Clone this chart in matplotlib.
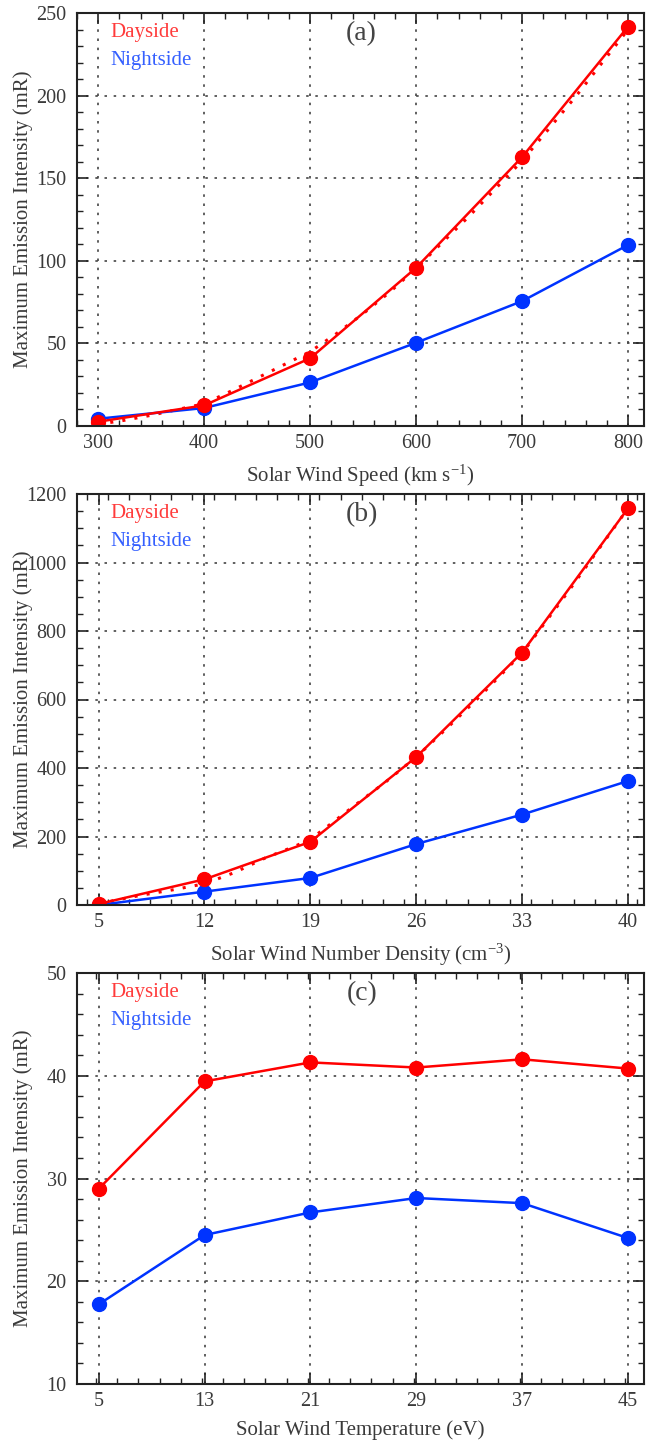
import matplotlib
matplotlib.use("Agg")
import matplotlib.pyplot as plt
import numpy as np
from matplotlib.ticker import MultipleLocator
import matplotlib.transforms as mtransforms

plt.rcParams['font.family'] = ['Liberation Serif', 'DejaVu Serif']
plt.rcParams['mathtext.fontset'] = 'stix'

# ---------------- data ----------------
speed = [300, 400, 500, 600, 700, 800]
speed_day = [2.6, 12.5, 41.0, 95.8, 162.8, 241.8]
speed_night = [4.4, 10.9, 26.4, 50.4, 75.6, 109.6]
speed_fit_x = [300, 325, 350, 375, 400, 425, 450, 475, 500, 525, 550, 575, 600, 650, 700, 750, 800]
speed_fit_y = [1.0, 3.5, 6.5, 10.0, 13.5, 21.0, 29.0, 37.0, 45.0, 56.0, 68.0, 81.0, 95.5, 127.0, 160.5, 199.0, 240.0]

dens = [5, 12, 19, 26, 33, 40]
dens_day = [3.0, 75.0, 184.5, 432.0, 737.0, 1158.0]
dens_night = [0.0, 39.0, 79.0, 178.0, 264.0, 362.0]
dens_fit_x = [5, 6, 8, 10, 12, 14, 16, 18, 19, 20, 22, 24, 26, 28, 30, 33, 36, 40]
dens_fit_y = [3.0, 13.0, 30.0, 45.0, 62.0, 95.0, 137.0, 172.0, 192.0, 225.0, 293.0, 360.0, 432.0, 515.0, 600.0, 735.0, 912.0, 1158.0]

temp = [5, 13, 21, 29, 37, 45]
temp_day = [29.0, 39.45, 41.3, 40.8, 41.6, 40.7]
temp_night = [17.75, 24.5, 26.7, 28.1, 27.6, 24.2]

panel_labels = ['(a)', '(b)', '(c)']
xlabels = [r'Solar Wind Speed (km s$^{\mathregular{-1}}$)',
           r'Solar Wind Number Density (cm$^{\mathregular{-3}}$)',
           'Solar Wind Temperature (eV)']
ylabel = 'Maximum Emission Intensity (mR)'

RED = '#ff0000'
BLUE = '#0033ff'
TXT = '#3a3a3a'

W, H = 646, 1443
fig = plt.figure(figsize=(W / 100, H / 100), dpi=100)

def px_axes(left, right, top, bottom):
    return fig.add_axes([left / W, 1 - bottom / H, (right - left) / W, (bottom - top) / H])

ax_a = px_axes(77, 644, 13, 426)
ax_b = px_axes(77, 644, 494, 905)
ax_c = px_axes(77, 644, 973, 1384)

def style(ax, xlim, ylim, xmaj, xmin, ymaj, ymin, xticks):
    ax.set_xlim(*xlim)
    ax.set_ylim(*ylim)
    ax.set_xticks(xticks)
    ax.xaxis.set_minor_locator(MultipleLocator(xmin))
    ax.yaxis.set_major_locator(MultipleLocator(ymaj))
    ax.yaxis.set_minor_locator(MultipleLocator(ymin))
    ax.tick_params(which='both', direction='in', top=True, right=True, colors='#222222',
                   labelcolor=TXT, labelsize=14.5)
    ax.tick_params(which='major', length=8, width=1.2)
    ax.tick_params(which='minor', length=4, width=1.0)
    ax.tick_params(axis='x', pad=5.5)
    ax.tick_params(axis='y', pad=7.5)
    for s in ax.spines.values():
        s.set_linewidth(1.5)
        s.set_color('#222222')
    ax.grid(True, which='major', color='#444444', linestyle=(0, (1.5, 4)), linewidth=1.2)
    ax.set_axisbelow(True)
    ax.set_ylabel(ylabel, fontsize=15, color=TXT)

def annotate(ax, lab):
    ax.text(0.058, 0.952, 'Dayside', color='#ff3b3b', fontsize=15, transform=ax.transAxes,
            va='center', ha='left')
    ax.text(0.058, 0.884, 'Nightside', color='#3560ff', fontsize=15, transform=ax.transAxes,
            va='center', ha='left')
    ax.text(0.502, 0.950, lab, color='#444444', fontsize=20, transform=ax.transAxes,
            va='center', ha='center')

ms = 10
lw = 1.8

# (a)
style(ax_a, (280, 815), (0, 250), 100, 20, 50, 10, speed)
ax_a.plot(speed_fit_x, speed_fit_y, color=RED, linestyle=(0, (1, 3)), linewidth=2.2)
ax_a.plot(speed, speed_night, color=BLUE, lw=lw, marker='o', ms=ms)
ax_a.plot(speed, speed_day, color=RED, lw=lw, marker='o', ms=ms)
ax_a.set_xlabel(xlabels[0], fontsize=15, color=TXT, labelpad=7)
annotate(ax_a, panel_labels[0])

# (b)
style(ax_b, (3.57, 41.06), (0, 1200), 7, 1.4, 200, 50, dens)
ax_b.plot(dens_fit_x, dens_fit_y, color=RED, linestyle=(0, (1, 3)), linewidth=2.2)
ax_b.plot(dens, dens_night, color=BLUE, lw=lw, marker='o', ms=ms)
ax_b.plot(dens, dens_day, color=RED, lw=lw, marker='o', ms=ms)
ax_b.set_xlabel(xlabels[1], fontsize=15, color=TXT, labelpad=7)
annotate(ax_b, panel_labels[1])

# (c)
style(ax_c, (3.36, 46.2), (10, 50), 8, 1.6, 10, 2, temp)
ax_c.plot(temp, temp_night, color=BLUE, lw=lw, marker='o', ms=ms)
ax_c.plot(temp, temp_day, color=RED, lw=lw, marker='o', ms=ms)
ax_c.set_xlabel(xlabels[2], fontsize=15, color=TXT, labelpad=7)
annotate(ax_c, panel_labels[2])

for ax in (ax_a, ax_b, ax_c):
    ax.yaxis.set_label_coords(-0.077, 0.5)
    fig.canvas.draw()
    # bottom y tick label sits slightly raised above the x axis
    labs = ax.get_yticklabels()
    if labs:
        off = mtransforms.ScaledTranslation(0, 5 / 72, fig.dpi_scale_trans)
        labs[0].set_transform(labs[0].get_transform() + off)

fig.savefig('out.png', dpi=100)
